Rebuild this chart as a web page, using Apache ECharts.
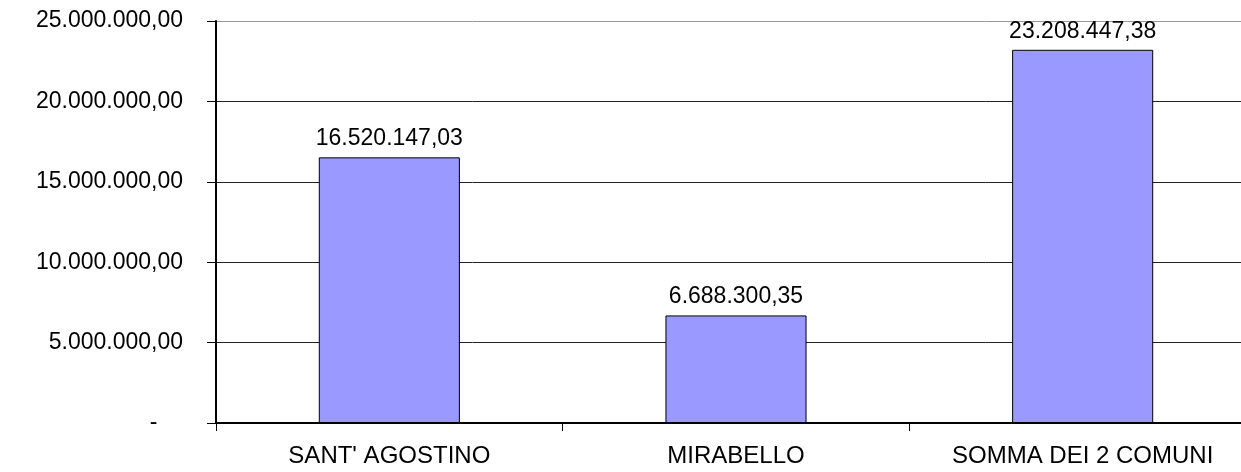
<!DOCTYPE html>
<html><head><meta charset="utf-8">
<script src="https://cdn.jsdelivr.net/npm/echarts@6/dist/echarts.min.js"></script>
<style>html,body{margin:0;padding:0;background:#fff}#c{width:1241px;height:472px}</style>
</head><body><div id="c"></div>
<script>
const categories = ["SANT' AGOSTINO", "MIRABELLO", "SOMMA DEI 2 COMUNI"];
const values = [16520147.03, 6688300.35, 23208447.38];
const yMin = 0, yMax = 25000000, yStep = 5000000;

function fmt(v) {
  if (v === 0) return '-    ';
  const parts = v.toFixed(2).split('.');
  const intPart = parts[0].replace(/\B(?=(\d{3})+(?!\d))/g, '.');
  return intPart + ',' + parts[1];
}
const font = 'Liberation Sans, Arial, sans-serif';
const chart = echarts.init(document.getElementById('c'), null, {renderer: 'canvas'});
chart.setOption({
  animation: false,
  backgroundColor: '#fff',
  grid: {left: 216, right: -15, top: 21, bottom: 49, containLabel: false, outerBoundsMode: 'none'},
  xAxis: {
    type: 'category', data: categories,
    axisLine: {lineStyle: {color: '#000', width: 2}},
    axisTick: {show: true, length: 8, lineStyle: {color: '#000'}},
    axisLabel: {color: '#000', fontFamily: font, fontSize: 24, margin: 21}
  },
  yAxis: {
    type: 'value', min: yMin, max: yMax, interval: yStep,
    axisLine: {show: true, lineStyle: {color: '#000', width: 2}},
    axisTick: {show: true, length: 9, lineStyle: {color: '#000'}},
    splitLine: {lineStyle: {color: ['#222', '#222', '#222', '#222', '#222', '#999'], width: 1}},
    axisLabel: {color: '#000', fontFamily: font, fontSize: 23, margin: 33, formatter: fmt}
  },
  series: [{
    type: 'bar', data: values, barWidth: '40.7%',
    itemStyle: {color: '#9999FF', borderColor: '#000', borderWidth: 1},
    label: {show: true, position: 'top', distance: 7, color: '#000', fontFamily: font, fontSize: 23, formatter: p => fmt(p.value)}
  }]
});
</script></body></html>
